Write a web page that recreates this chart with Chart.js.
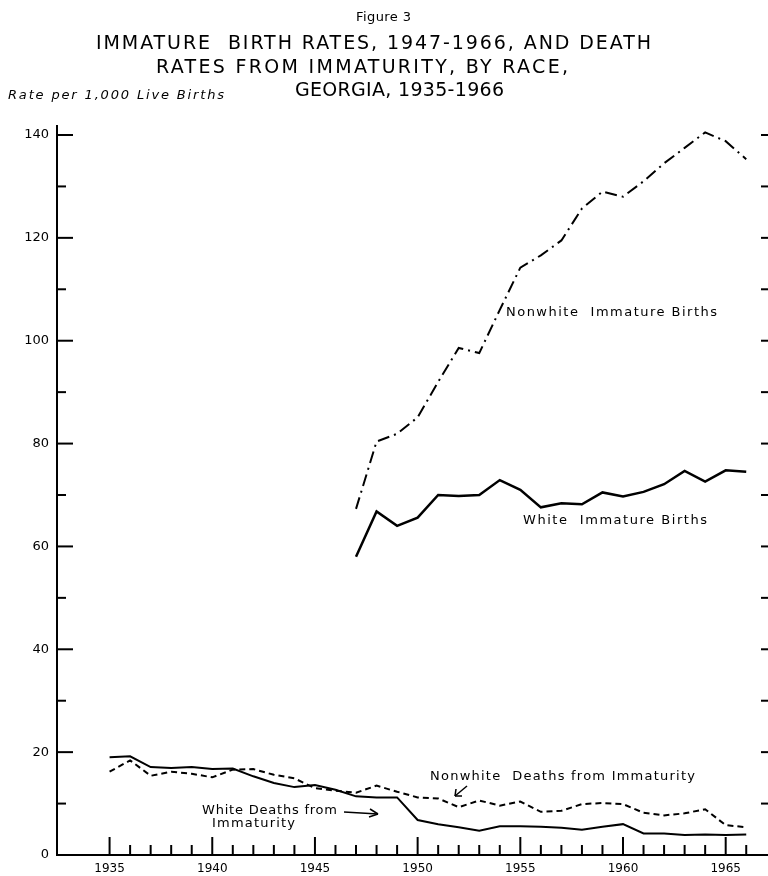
<!DOCTYPE html>
<html>
<head>
<meta charset="utf-8">
<script src="https://cdn.jsdelivr.net/npm/chart.js@4.4.0/dist/chart.umd.min.js"></script>
<style>
  body { margin: 0; background: #fff; }
  canvas { display: block; }
</style>
</head>
<body>
<canvas id="myChart" width="768" height="876"></canvas>
<script>
// years for each series
var birthYears = [1947, 1948, 1949, 1950, 1951, 1952, 1953, 1954, 1955, 1956,
  1957, 1958, 1959, 1960, 1961, 1962, 1963, 1964, 1965, 1966];
var deathYears = [1935, 1936, 1937, 1938, 1939, 1940, 1941, 1942, 1943, 1944,
  1945, 1946, 1947, 1948, 1949, 1950, 1951, 1952, 1953, 1954, 1955, 1956,
  1957, 1958, 1959, 1960, 1961, 1962, 1963, 1964, 1965, 1966];

// rates per 1,000 live births
var nonwhiteBirths = [67.3, 80.4, 81.9, 85.1, 92, 98.6, 97.6, 106, 114.2, 116.6,
  119.5, 125.7, 129, 128, 131, 134.5, 137.5, 140.5, 138.8, 135.3];
var whiteBirths = [58, 66.8, 64, 65.6, 70, 69.8, 70, 72.9, 71, 67.6,
  68.4, 68.2, 70.5, 69.7, 70.6, 72.1, 74.7, 72.6, 74.8, 74.5];
var whiteDeaths = [19.0, 19.2, 17.1, 16.9, 17.1, 16.7, 16.8, 15.3, 14.0, 13.2,
  13.6, 12.7, 11.4, 11.2, 11.2, 6.8, 6.0, 5.4, 4.7, 5.6, 5.6, 5.5,
  5.3, 4.9, 5.5, 6.0, 4.2, 4.2, 3.9, 4.0, 3.9, 4.0];
var nonwhiteDeaths = [16.2, 18.4, 15.4, 16.2, 15.8, 15.1, 16.6, 16.7, 15.6, 14.9,
  13.0, 12.5, 12.1, 13.5, 12.3, 11.2, 11.0, 9.3, 10.6, 9.6, 10.4, 8.4,
  8.6, 9.9, 10.1, 9.9, 8.2, 7.7, 8.1, 8.9, 5.8, 5.4];

var xTickLabels = [1935, 1940, 1945, 1950, 1955, 1960, 1965];
var yTickLabels = [0, 20, 40, 60, 80, 100, 120, 140];

function pts(xs, ys) {
  return xs.map(function (x, i) { return { x: x, y: ys[i] }; });
}

var FONT = "'DejaVu Sans', sans-serif";

// draws text stretched between x1 and x2
function fitText(ctx, text, x1, x2, y, font) {
  ctx.font = font;
  ctx.letterSpacing = "0px";
  var w = ctx.measureText(text).width;
  var ls = (x2 - x1 - w) / (text.length - 1);
  ctx.letterSpacing = ls + "px";
  ctx.textAlign = "left";
  ctx.textBaseline = "middle";
  ctx.fillText(text, x1, y);
  ctx.letterSpacing = "0px";
}

function line(ctx, x1, y1, x2, y2) {
  ctx.beginPath();
  ctx.moveTo(x1, y1);
  ctx.lineTo(x2, y2);
  ctx.stroke();
}

var decorations = {
  id: "decorations",
  afterDraw: function (chart) {
    var ctx = chart.ctx;
    var xs = chart.scales.x, ys = chart.scales.y;
    var area = chart.chartArea;
    ctx.save();
    ctx.fillStyle = "#000";
    ctx.strokeStyle = "#000";
    ctx.lineWidth = 2;

    // y ticks pointing inward, left side; short ticks on the right edge
    for (var v = 10; v <= 140; v += 10) {
      var py = ys.getPixelForValue(v);
      line(ctx, area.left, py, area.left + (v % 20 === 0 ? 16 : 9), py);
      line(ctx, area.right - 7, py, area.right, py);
    }
    // x ticks pointing up, one per year
    for (var yr = 1935; yr <= 1966; yr++) {
      var px = xs.getPixelForValue(yr);
      line(ctx, px, area.bottom, px, area.bottom - (yr % 5 === 0 ? 18 : 10));
    }

    // title
    fitText(ctx, "Figure 3", 356, 411, 18, "13px " + FONT);
    fitText(ctx, "IMMATURE  BIRTH RATES, 1947-1966, AND DEATH", 96, 651, 44, "19px " + FONT);
    fitText(ctx, "RATES FROM IMMATURITY, BY RACE,", 156, 568, 68, "19px " + FONT);
    fitText(ctx, "GEORGIA, 1935-1966", 295, 504, 91, "19px " + FONT);
    fitText(ctx, "Rate per 1,000 Live Births", 8, 224, 96, "italic 13px " + FONT);

    // series labels
    fitText(ctx, "Nonwhite  Immature Births", 506, 717, 313, "13px " + FONT);
    fitText(ctx, "White  Immature Births", 523, 707, 521, "13px " + FONT);
    fitText(ctx, "Nonwhite  Deaths from Immaturity", 430, 695, 777, "13px " + FONT);
    fitText(ctx, "White Deaths from", 202, 337, 811, "13px " + FONT);
    fitText(ctx, "Immaturity", 212, 295, 824, "13px " + FONT);

    // arrows
    ctx.lineWidth = 1.5;
    line(ctx, 344, 812, 378, 814);
    line(ctx, 378, 814, 370, 809);
    line(ctx, 378, 814, 369, 817);
    line(ctx, 467, 786, 455, 796);
    line(ctx, 455, 796, 456, 789);
    line(ctx, 455, 796, 462, 796);
    ctx.restore();
  }
};

new Chart("myChart", {
  type: "line",
  data: {
    datasets: [
      {
        data: pts(birthYears, nonwhiteBirths),
        borderColor: "#000",
        borderWidth: 2,
        borderDash: [12, 5, 2, 5],
      },
      {
        data: pts(birthYears, whiteBirths),
        borderColor: "#000",
        borderWidth: 2.5,
      },
      {
        data: pts(deathYears, whiteDeaths),
        borderColor: "#000",
        borderWidth: 2,
      },
      {
        data: pts(deathYears, nonwhiteDeaths),
        borderColor: "#000",
        borderWidth: 2,
        borderDash: [6, 4],
      },
    ],
  },
  options: {
    responsive: false,
    animation: false,
    elements: { point: { radius: 0 }, line: { tension: 0 } },
    layout: { padding: { top: 126, right: 0, bottom: 0, left: 0 } },
    plugins: {
      legend: { display: false },
      tooltip: { enabled: false },
      title: { display: false },
    },
    scales: {
      x: {
        type: "linear",
        min: 1932.44,
        max: 1967.06,
        grid: { display: false, drawTicks: false },
        border: { display: true, color: "#000", width: 2 },
        ticks: {
          color: "#000",
          font: { family: FONT, size: 12 },
          padding: 7,
          maxRotation: 0,
          callback: function (v) { return String(v); },
        },
        afterBuildTicks: function (s) {
          s.ticks = xTickLabels.map(function (v) { return { value: v }; });
        },
        afterFit: function (s) { s.height = 21; },
      },
      y: {
        min: 0,
        max: 141.75,
        grid: { display: false, drawTicks: false },
        border: { display: true, color: "#000", width: 2 },
        ticks: {
          color: "#000",
          font: { family: FONT, size: 13 },
          padding: 8,
        },
        afterBuildTicks: function (s) {
          s.ticks = yTickLabels.map(function (v) { return { value: v }; });
        },
        afterFit: function (s) { s.width = 57; },
      },
    },
  },
  plugins: [decorations],
});
</script>
</body>
</html>
